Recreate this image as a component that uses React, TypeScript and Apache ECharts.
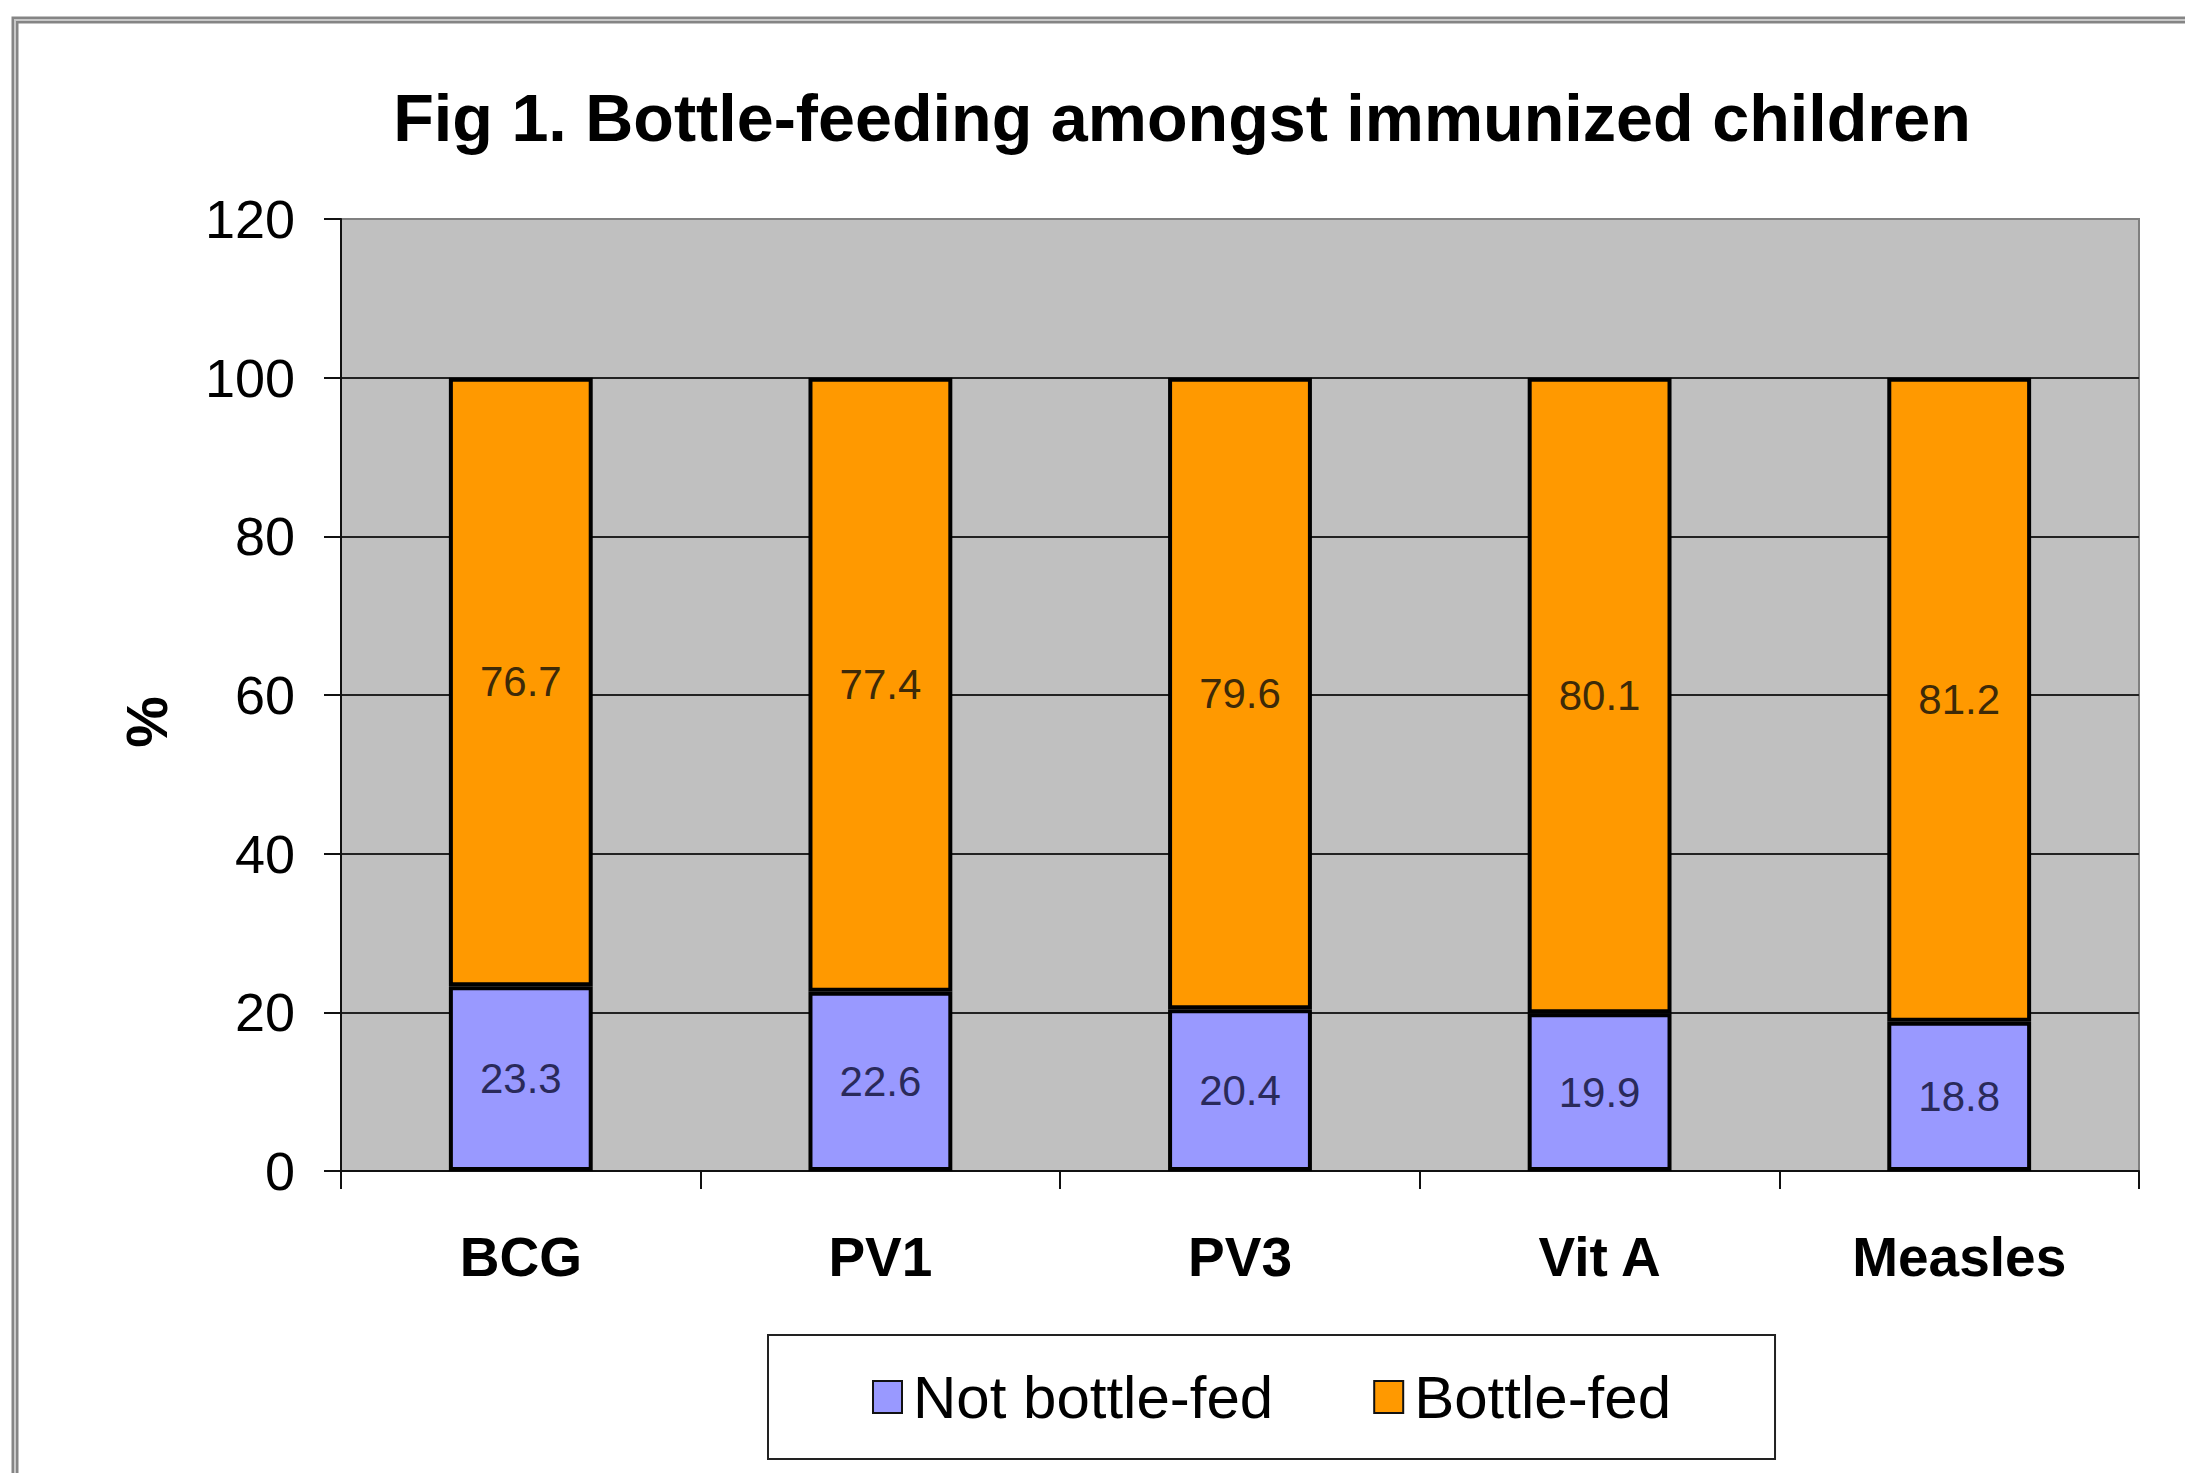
import React, { useEffect, useRef } from "react";
import * as echarts from "echarts";

const titleText = "Fig 1. Bottle-feeding amongst immunized children";
const categories = ["BCG", "PV1", "PV3", "Vit A", "Measles"];
const notBottleFed = [23.3, 22.6, 20.4, 19.9, 18.8];
const bottleFed = [76.7, 77.4, 79.6, 80.1, 81.2];
const seriesNames = ["Not bottle-fed", "Bottle-fed"];
const yAxisName = "%";

const FONT = "'Liberation Sans', Arial, sans-serif";

export default function App() {
  const ref = useRef<HTMLDivElement>(null);
  useEffect(() => {
    document.body.style.margin = "0";
    const chart = echarts.init(ref.current!, null, { renderer: "svg" });
    chart.setOption({
      animation: false,
      backgroundColor: "#ffffff",
      textStyle: { fontFamily: FONT },
      graphic: [
        {
          type: "rect",
          shape: { x: 15, y: 20, width: 2400, height: 1700 },
          style: { fill: "none", stroke: "#858585", lineWidth: 7 },
          silent: true,
        },
        {
          type: "rect",
          shape: { x: 15, y: 20, width: 2400, height: 1700 },
          style: { fill: "none", stroke: "#c8c8c8", lineWidth: 2 },
          silent: true,
        },
        {
          type: "text",
          x: 1182,
          y: 118,
          style: {
            text: titleText,
            fontFamily: FONT,
            fontWeight: "bold",
            fontSize: 66.5,
            fill: "#000",
            align: "center",
            verticalAlign: "middle",
          },
        },
        {
          type: "text",
          x: 146,
          y: 722,
          rotation: Math.PI / 2,
          style: {
            text: yAxisName,
            fontFamily: FONT,
            fontWeight: "bold",
            fontSize: 58,
            fill: "#000",
            align: "center",
            verticalAlign: "middle",
          },
        },
      ],
      legend: {
        left: 768,
        top: 1335,
        orient: "horizontal",
        padding: [32, 104, 32, 104],
        borderColor: "#222",
        borderWidth: 2,
        backgroundColor: "#fff",
        itemWidth: 29,
        itemHeight: 32,
        itemGap: 100,
        icon: "rect",
        itemStyle: { borderColor: "#111", borderWidth: 2 },
        textStyle: { fontFamily: FONT, fontSize: 60, color: "#000", padding: [0, 0, 0, 6] },
        data: seriesNames,
      },
      grid: {
        left: 341,
        right: 46,
        top: 219,
        bottom: 302,
        show: true,
        backgroundColor: "#c0c0c0",
        borderColor: "#808080",
        borderWidth: 2,
      },
      xAxis: {
        type: "category",
        data: categories,
        boundaryGap: true,
        axisLine: { show: true, lineStyle: { color: "#111", width: 2 } },
        axisTick: { show: true, length: 18, interval: 0, lineStyle: { color: "#111", width: 2 } },
        axisLabel: {
          fontFamily: FONT,
          fontWeight: "bold",
          fontSize: 55,
          color: "#000",
          margin: 58,
          interval: 0,
        },
      },
      yAxis: {
        type: "value",
        min: 0,
        max: 120,
        interval: 20,
        axisLine: { show: true, lineStyle: { color: "#111", width: 2 } },
        axisTick: { show: true, length: 17, lineStyle: { color: "#111", width: 2 } },
        axisLabel: { fontFamily: FONT, fontSize: 54, color: "#000", margin: 46 },
        splitLine: {
          show: true,
          lineStyle: {
            color: ["#222", "#222", "#222", "#222", "#222", "#222", "#808080"],
            width: 2,
          },
        },
      },
      series: [
        {
          name: seriesNames[0],
          type: "bar",
          stack: "total",
          barWidth: "40%",
          data: notBottleFed,
          itemStyle: { color: "#9999ff", borderColor: "#000", borderWidth: 4 },
          label: {
            show: true,
            position: "inside",
            fontFamily: FONT,
            fontSize: 42,
            color: "#2a2a5a",
          },
        },
        {
          name: seriesNames[1],
          type: "bar",
          stack: "total",
          barWidth: "40%",
          data: bottleFed,
          itemStyle: { color: "#ff9900", borderColor: "#000", borderWidth: 4 },
          label: {
            show: true,
            position: "inside",
            fontFamily: FONT,
            fontSize: 42,
            color: "#3d2a08",
          },
        },
      ],
    });
    return () => chart.dispose();
  }, []);
  return <div ref={ref} style={{ width: 2185, height: 1473 }} />;
}
